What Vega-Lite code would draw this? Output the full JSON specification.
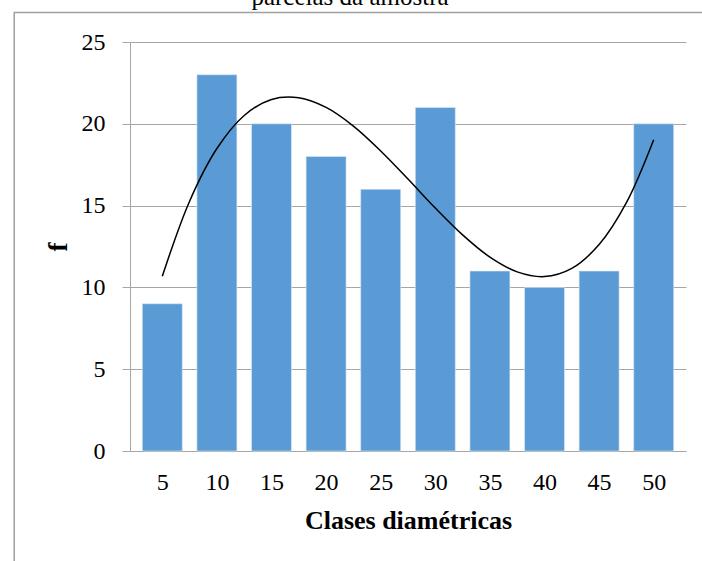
{
  "$schema": "https://vega.github.io/schema/vega-lite/v6.json",
  "autosize": "none",
  "width": 556,
  "height": 409,
  "padding": {"left": 130, "top": 42, "right": 16, "bottom": 110},
  "background": "white",
  "title": {
    "text": "parcelas da amostra",
    "font": "Liberation Serif",
    "fontSize": 25,
    "fontWeight": "normal",
    "color": "black",
    "anchor": "middle",
    "baseline": "alphabetic",
    "dx": -58,
    "dy": 18,
    "offset": 0
  },
  "datasets": {
    "bars": [
      {"clase": 5, "f": 9},
      {"clase": 10, "f": 23},
      {"clase": 15, "f": 20},
      {"clase": 20, "f": 18},
      {"clase": 25, "f": 16},
      {"clase": 30, "f": 21},
      {"clase": 35, "f": 11},
      {"clase": 40, "f": 10},
      {"clase": 45, "f": 11},
      {"clase": 50, "f": 20}
    ],
    "trend": [
      {"clase": 5, "f": 10.68},
      {"clase": 7.5, "f": 15.27},
      {"clase": 10, "f": 18.49},
      {"clase": 12.5, "f": 20.51},
      {"clase": 15, "f": 21.49},
      {"clase": 17.5, "f": 21.59},
      {"clase": 20, "f": 21.0},
      {"clase": 22.5, "f": 19.86},
      {"clase": 25, "f": 18.34},
      {"clase": 27.5, "f": 16.62},
      {"clase": 30, "f": 14.85},
      {"clase": 32.5, "f": 13.21},
      {"clase": 35, "f": 11.85},
      {"clase": 37.5, "f": 10.95},
      {"clase": 40, "f": 10.66},
      {"clase": 42.5, "f": 11.16},
      {"clase": 45, "f": 12.62},
      {"clase": 47.5, "f": 15.18},
      {"clase": 50, "f": 19.03}
    ]
  },
  "config": {
    "view": {"stroke": null},
    "font": "Liberation Serif"
  },
  "layer": [
    {
      "data": {"values": [{}]},
      "mark": {"type": "rect", "fill": null, "stroke": "#A0A0A0", "strokeWidth": 1.5, "clip": false},
      "encoding": {
        "x": {"datum": -8.56, "type": "quantitative"},
        "x2": {"datum": 56},
        "y": {"datum": 26.8, "type": "quantitative"},
        "y2": {"datum": -8}
      }
    },
    {
      "data": {"name": "bars"},
      "mark": {"type": "bar", "color": "#5B9BD5", "size": 40, "stroke": "#DDEBF7", "strokeWidth": 0.6},
      "encoding": {
        "x": {
          "field": "clase",
          "type": "quantitative",
          "scale": {"domain": [2.5, 52.5], "nice": false, "zero": false},
          "axis": {
            "values": [5, 10, 15, 20, 25, 30, 35, 40, 45, 50],
            "grid": false,
            "ticks": false,
            "domainColor": "#A6A6A6",
            "domainWidth": 1,
            "labelFont": "Liberation Serif",
            "labelFontSize": 24,
            "labelColor": "black",
            "labelPadding": 19,
            "labelFlush": false,
            "title": "Clases diamétricas",
            "titleFont": "Liberation Serif",
            "titleFontSize": 26,
            "titleFontWeight": "bold",
            "titleColor": "black",
            "titlePadding": 13
          }
        },
        "y": {
          "field": "f",
          "type": "quantitative",
          "scale": {"domain": [0, 25], "nice": false},
          "axis": {
            "values": [0, 5, 10, 15, 20, 25],
            "grid": true,
            "gridColor": "#A6A6A6",
            "gridWidth": 1,
            "domainColor": "#A6A6A6",
            "tickColor": "#A6A6A6",
            "tickSize": 8,
            "labelFont": "Liberation Serif",
            "labelFontSize": 24,
            "labelColor": "black",
            "labelPadding": 17,
            "title": "f",
            "titleFont": "Liberation Serif",
            "titleFontSize": 27,
            "titleFontWeight": "bold",
            "titleColor": "black",
            "titlePadding": 9
          }
        }
      }
    },
    {
      "data": {"name": "trend"},
      "mark": {"type": "line", "color": "black", "strokeWidth": 1.5, "interpolate": "catmull-rom"},
      "encoding": {
        "x": {"field": "clase", "type": "quantitative"},
        "y": {"field": "f", "type": "quantitative"}
      }
    }
  ]
}
